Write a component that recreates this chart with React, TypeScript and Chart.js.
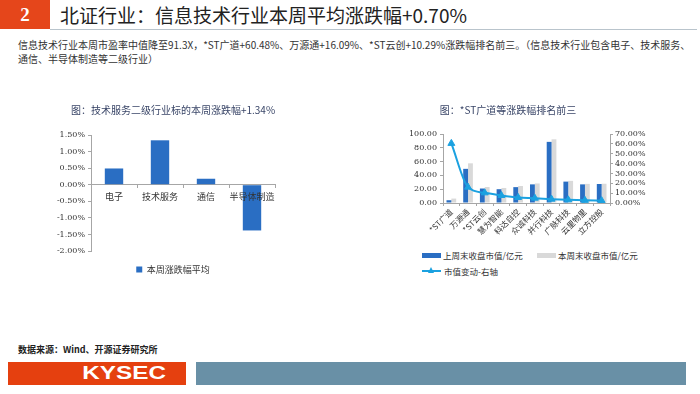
import React, { useEffect, useRef } from "react";
import { Chart, registerables } from "chart.js";
Chart.register(...registerables);

const CJK = '"Noto Sans CJK SC", "Noto Sans", sans-serif';
const NUM = '"DejaVu Serif", serif';

// ---- data ----
const sectorLabels = ["电子", "技术服务", "通信", "半导体制造"];
const sectorChange = [0.49, 1.34, 0.18, -1.38];

const stockLabels = ["*ST广道", "万源通", "*ST云创", "慧为智能", "科达自控", "众诚科技", "并行科技", "广脉科技", "云里物里", "立方控股"];
const capLastWeek = [4.0, 49.5, 21.0, 20.0, 23.0, 27.0, 88.6, 31.0, 27.0, 27.5];
const capThisWeek = [6.4, 57.5, 23.2, 21.8, 24.6, 28.3, 92.3, 32.1, 27.7, 27.9];
const capChangePct = [60.48, 16.09, 10.29, 7.6, 5.6, 4.9, 3.9, 3.2, 2.7, 2.4];

const leftTitle = "图：技术服务二级行业标的本周涨跌幅+1.34%";
const rightTitle = "图：*ST广道等涨跌幅排名前三";
const leftSeriesName = "本周涨跌幅平均";
const seriesLast = "上周末收盘市值/亿元";
const seriesThis = "本周末收盘市值/亿元";
const seriesChange = "市值变动-右轴";

const BLUE = "#2A6EC3";
const GREY = "#D9D9D9";
const LINE = "#1BA1E0";
const AXIS = "#A6A6A6";
const TITLE_COLOR = "#3A4668";

function LeftChart() {
  const ref = useRef<HTMLCanvasElement>(null);
  useEffect(() => {
    const chart = new Chart(ref.current!, {
      type: "bar",
      data: {
        labels: sectorLabels,
        datasets: [
          {
            label: leftSeriesName,
            data: sectorChange,
            backgroundColor: BLUE,
            barPercentage: 0.4,
            categoryPercentage: 1,
          },
        ],
      },
      options: {
        animation: false,
        responsive: false,
        devicePixelRatio: 1,
        layout: { padding: 0 },
        plugins: {
          title: {
            display: true,
            text: leftTitle,
            color: TITLE_COLOR,
            font: { family: CJK, size: 10, weight: "normal" },
            padding: { top: 6, bottom: 19 },
          },
          legend: {
            position: "bottom",
            labels: {
              boxWidth: 6,
              boxHeight: 6,
              padding: 6,
              color: "#333",
              font: { family: CJK, size: 9 },
            },
          },
          tooltip: { enabled: false },
        },
        scales: {
          x: {
            position: { y: 0 },
            grid: { drawOnChartArea: false, drawTicks: true, tickLength: 3, color: AXIS, offset: true },
            border: { color: AXIS },
            ticks: { z: 1, color: "#333", font: { family: CJK, size: 9 }, padding: 3, maxRotation: 0, autoSkip: false },
          },
          y: {
            min: -2,
            max: 1.5,
            ticks: {
              stepSize: 0.5,
              autoSkip: false,
              callback: (v: any) => Number(v).toFixed(2) + "%",
              color: "#333",
              font: { family: NUM, size: 8 },
              padding: 3,
            },
            grid: { drawOnChartArea: false, tickLength: 3, color: AXIS },
            border: { color: AXIS },
            afterFit: (s: any) => {
              s.width = 51;
            },
          },
          yPad: {
            type: "linear",
            position: "right",
            display: true,
            ticks: { display: false },
            grid: { display: false },
            border: { display: false },
            afterFit: (s: any) => {
              s.width = 31;
            },
          },
          xPad: {
            type: "category",
            axis: "x",
            position: "bottom",
            display: true,
            ticks: { display: false },
            grid: { display: false },
            border: { display: false },
            afterFit: (s: any) => {
              s.height = 8;
            },
          },
        },
      } as any,
    });
    return () => chart.destroy();
  }, []);
  return (
    <canvas
      ref={ref}
      width={266}
      height={186}
      style={{ position: "absolute", left: 40, top: 98, width: 266, height: 186 }}
    />
  );
}

function RightChart() {
  const ref = useRef<HTMLCanvasElement>(null);
  useEffect(() => {
    const chart = new Chart(ref.current!, {
      type: "bar",
      data: {
        labels: stockLabels,
        datasets: [
          {
            type: "line",
            label: seriesChange,
            data: capChangePct,
            yAxisID: "y1",
            borderColor: LINE,
            backgroundColor: LINE,
            borderWidth: 2,
            pointStyle: "triangle",
            pointRadius: 4,
            pointBorderWidth: 1,
            cubicInterpolationMode: "monotone",
            order: 0,
          },
          {
            label: seriesLast,
            data: capLastWeek,
            backgroundColor: BLUE,
            yAxisID: "y",
            order: 1,
            barPercentage: 1,
            categoryPercentage: 0.58,
          },
          {
            label: seriesThis,
            data: capThisWeek,
            backgroundColor: GREY,
            yAxisID: "y",
            order: 2,
            barPercentage: 1,
            categoryPercentage: 0.58,
          },
        ],
      } as any,
      options: {
        animation: false,
        responsive: false,
        devicePixelRatio: 1,
        layout: { padding: 0 },
        plugins: {
          title: {
            display: true,
            text: rightTitle,
            color: TITLE_COLOR,
            font: { family: CJK, size: 10, weight: "normal" },
            padding: { top: 8, bottom: 18 },
          },
          legend: { display: false },
          tooltip: { enabled: false },
        },
        scales: {
          x: {
            grid: { drawOnChartArea: false, drawTicks: true, tickLength: 3, color: AXIS, offset: true },
            border: { color: AXIS },
            ticks: {
              color: "#333",
              font: { family: CJK, size: 8 },
              padding: 1,
              minRotation: 45,
              maxRotation: 45,
              autoSkip: false,
            },
            afterFit: (s: any) => {
              s.height = 42;
            },
          },
          y: {
            position: "left",
            min: 0,
            max: 100,
            ticks: {
              stepSize: 20,
              autoSkip: false,
              callback: (v: any) => Number(v).toFixed(2),
              color: "#333",
              font: { family: NUM, size: 8 },
              padding: 3,
            },
            grid: { drawOnChartArea: false, tickLength: 3, color: AXIS },
            border: { color: AXIS },
            afterFit: (s: any) => {
              s.width = 77;
            },
          },
          y1: {
            position: "right",
            min: 0,
            max: 70,
            ticks: {
              stepSize: 10,
              autoSkip: false,
              callback: (v: any) => Number(v).toFixed(2) + "%",
              color: "#333",
              font: { family: NUM, size: 8 },
              padding: 2,
            },
            grid: { drawOnChartArea: false, tickLength: 3, color: AXIS },
            border: { color: AXIS },
            afterFit: (s: any) => {
              s.width = 40;
            },
          },
        },
      } as any,
    });
    return () => chart.destroy();
  }, []);
  return (
    <canvas
      ref={ref}
      width={284}
      height={149}
      style={{ position: "absolute", left: 366, top: 96, width: 284, height: 149 }}
    />
  );
}

function RightLegend() {
  const txt: React.CSSProperties = {
    position: "absolute",
    fontFamily: CJK,
    fontSize: 8.5,
    color: "#333",
    lineHeight: "12px",
    whiteSpace: "nowrap",
  };
  return (
    <>
      <div style={{ position: "absolute", left: 422, top: 253, width: 19, height: 5, background: BLUE }} />
      <div style={{ ...txt, left: 443, top: 249 }}>{seriesLast}</div>
      <div style={{ position: "absolute", left: 537, top: 253, width: 19, height: 5, background: GREY }} />
      <div style={{ ...txt, left: 558, top: 249 }}>{seriesThis}</div>
      <div style={{ position: "absolute", left: 422, top: 270, width: 19, height: 2, background: LINE }} />
      <div
        style={{
          position: "absolute",
          left: 428,
          top: 267,
          width: 0,
          height: 0,
          borderLeft: "3.5px solid transparent",
          borderRight: "3.5px solid transparent",
          borderBottom: "6px solid " + LINE,
        }}
      />
      <div style={{ ...txt, left: 444, top: 265 }}>{seriesChange}</div>
    </>
  );
}

export default function App() {
  return (
    <div
      style={{
        position: "fixed",
        left: 0,
        top: 0,
        width: 700,
        height: 394,
        background: "#fff",
        overflow: "hidden",
        fontFamily: CJK,
      }}
    >
      {/* header */}
      <div
        style={{
          position: "absolute",
          left: 0,
          top: 0,
          width: 50,
          height: 29,
          background: "#E5461B",
          color: "#fff",
          fontFamily: '"Liberation Serif", serif',
          fontWeight: "bold",
          fontSize: 19,
          lineHeight: "29px",
          textAlign: "center",
        }}
      >
        2
      </div>
      <div
        style={{
          position: "absolute",
          left: 60,
          top: 0,
          height: 29,
          lineHeight: "29px",
          fontSize: 19,
          color: "#222",
          whiteSpace: "nowrap",
        }}
      >
        北证行业：信息技术行业本周平均涨跌幅+0.70%
      </div>
      <div style={{ position: "absolute", left: 50, top: 29, width: 647, height: 1, background: "#B9C4CC" }} />

      {/* paragraph */}
      <div
        style={{
          position: "absolute",
          left: 18,
          top: 38,
          fontSize: 10,
          lineHeight: "14px",
          color: "#333",
          whiteSpace: "nowrap",
        }}
      >
        <div>信息技术行业本周市盈率中值降至91.3X，*ST广道+60.48%、万源通+16.09%、*ST云创+10.29%涨跌幅排名前三。（信息技术行业包含电子、技术服务、</div>
        <div>通信、半导体制造等二级行业）</div>
      </div>

      <LeftChart />
      <RightChart />
      <RightLegend />

      {/* footer */}
      <div
        style={{
          position: "absolute",
          left: 18,
          top: 344,
          fontSize: 9,
          lineHeight: "12px",
          fontWeight: 600,
          color: "#222",
          whiteSpace: "nowrap",
        }}
      >
        数据来源：Wind、开源证券研究所
      </div>
      <div
        style={{
          position: "absolute",
          left: 8,
          top: 362,
          width: 178,
          height: 23,
          background: "#E5400F",
        }}
      >
        <div
          style={{
            position: "absolute",
            right: 20,
            top: 0,
            lineHeight: "23px",
            fontFamily: '"Liberation Sans", Arial, sans-serif',
            fontWeight: "bold",
            fontSize: 18,
            color: "#fff",
            transform: "scaleX(1.35)",
            transformOrigin: "right center",
          }}
        >
          KYSEC
        </div>
      </div>
      <div
        style={{
          position: "absolute",
          left: 196,
          top: 362,
          width: 490,
          height: 23,
          background: "#6990A6",
        }}
      />
    </div>
  );
}
